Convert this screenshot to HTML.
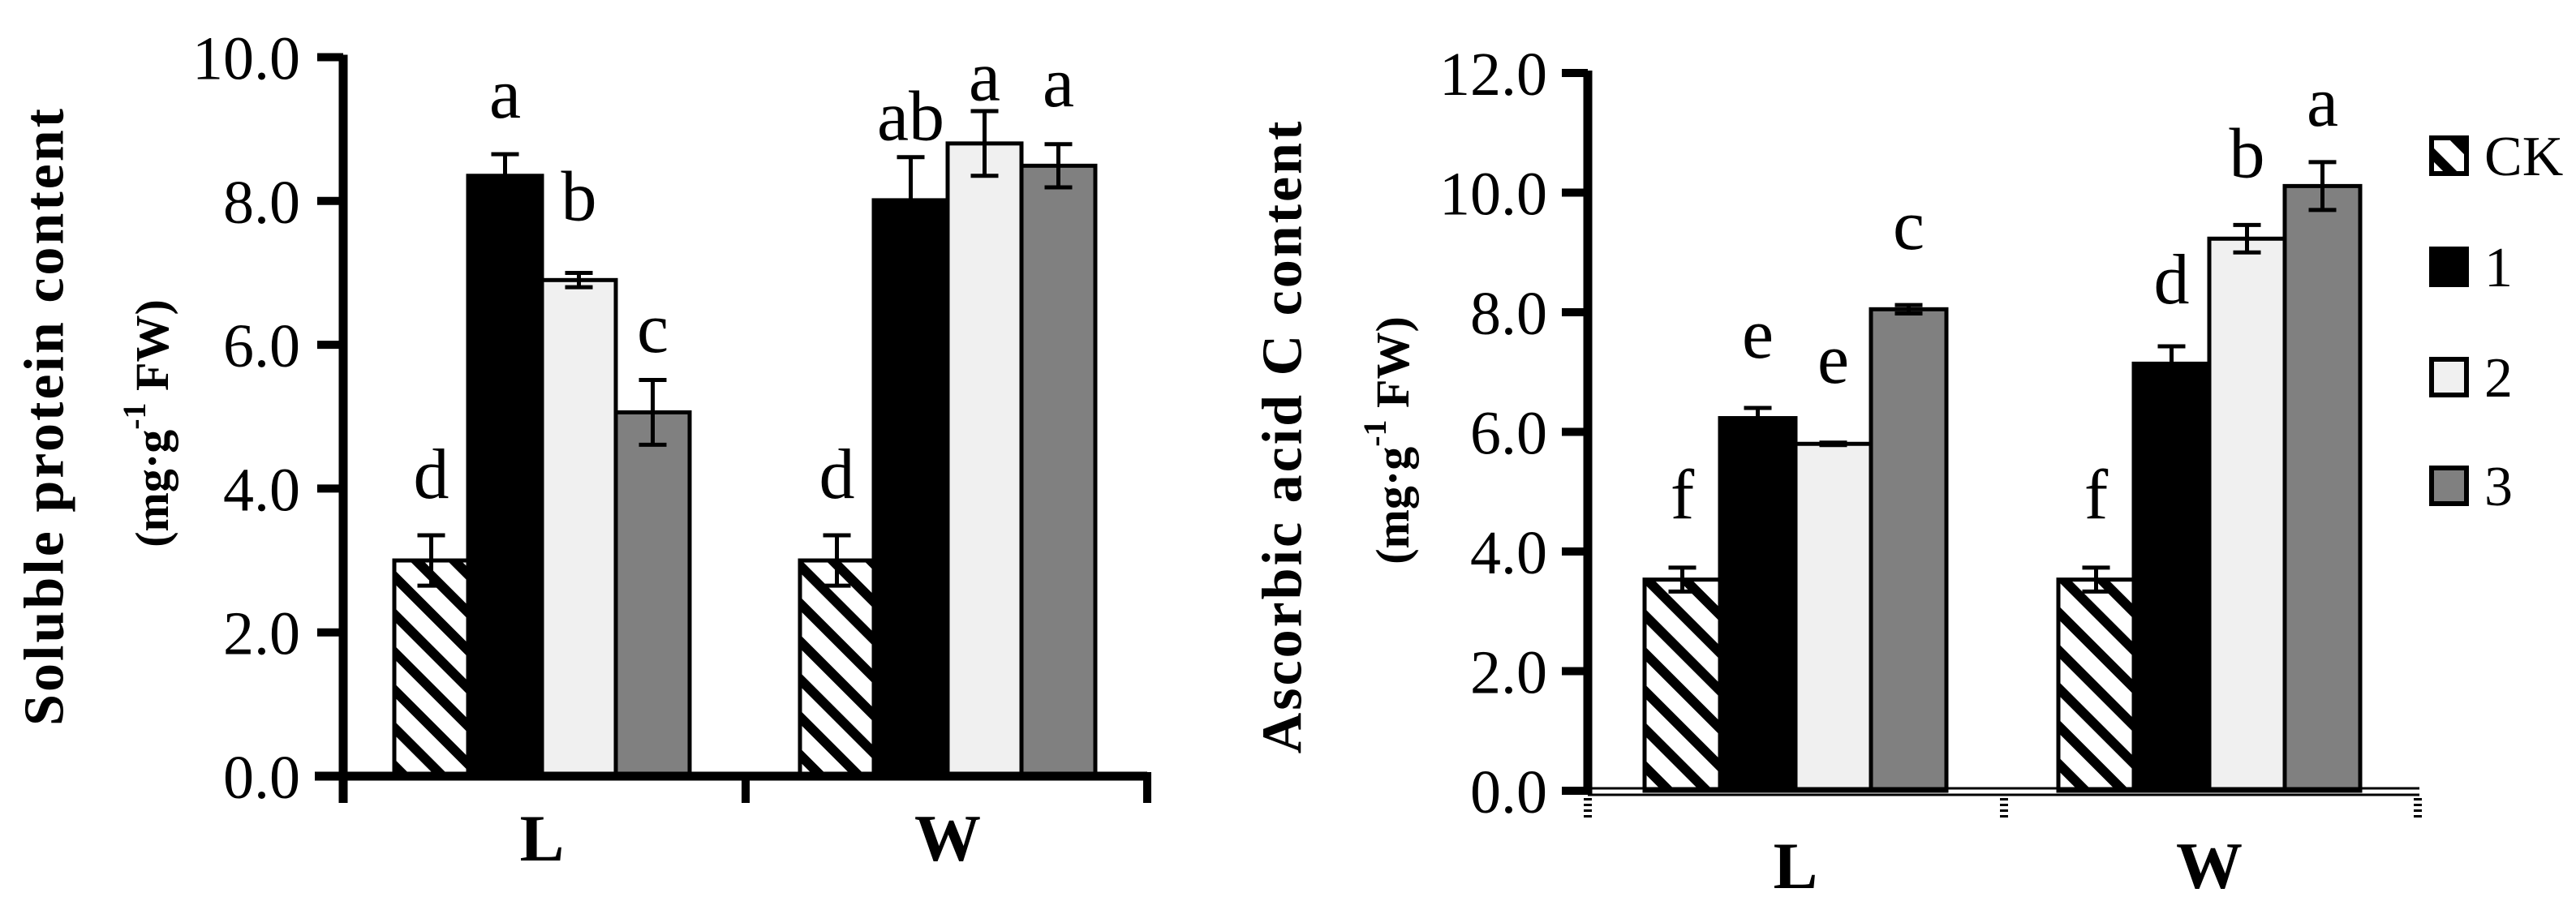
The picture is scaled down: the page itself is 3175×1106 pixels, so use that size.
<!DOCTYPE html>
<html><head><meta charset="utf-8"><style>
html,body{margin:0;padding:0;background:#fff;}
svg{display:block;font-family:"Liberation Serif",serif;}
</style></head><body>
<svg id="chart" width="3175" height="1106" viewBox="0 0 3175 1106" xmlns="http://www.w3.org/2000/svg">
<defs>
<pattern id="hatch" patternUnits="userSpaceOnUse" width="33" height="33" patternTransform="rotate(-45)">
<rect width="33" height="33" fill="#fff"/><rect x="0" y="0" width="12" height="33" fill="#000"/>
</pattern>
</defs>
<g id="left"></g>
<g id="right"></g>
<g id="legend"></g>
</svg>
<script>
const groups = ["L", "W"];
const seriesNames = ["CK", "1", "2", "3"];
const proteinL = [3.0, 8.35, 6.9, 5.06];
const proteinW = [3.0, 8.01, 8.8, 8.49];
const proteinErrL = [0.35, 0.3, 0.1, 0.45];
const proteinErrW = [0.35, 0.6, 0.45, 0.3];
const proteinLettersL = ["d", "a", "b", "c"];
const proteinLettersW = ["d", "ab", "a", "a"];
const proteinLetterPosL = [3.87, 9.16, 7.73, 5.9];
const proteinLetterPosW = [3.87, 8.85, 9.4, 9.32];
const proteinTicks = ["0.0", "2.0", "4.0", "6.0", "8.0", "10.0"];
const ascL = [3.53, 6.23, 5.8, 8.05];
const ascW = [3.53, 7.14, 9.23, 10.11];
const ascErrL = [0.2, 0.17, 0.02, 0.07];
const ascErrW = [0.2, 0.29, 0.23, 0.4];
const ascLettersL = ["f", "e", "e", "c"];
const ascLettersW = ["f", "d", "b", "a"];
const ascLetterPosL = [4.55, 7.24, 6.82, 9.06];
const ascLetterPosW = [4.55, 8.15, 10.26, 11.12];
const ascTicks = ["0.0", "2.0", "4.0", "6.0", "8.0", "10.0", "12.0"];

const NS = "http://www.w3.org/2000/svg";
const fills = ["url(#hatch)", "#000", "#f0f0f0", "#808080"];
function mk(parent, tag, attrs, text) {
  const e = document.createElementNS(NS, tag);
  for (const k in attrs) e.setAttribute(k, attrs[k]);
  if (text !== undefined) e.textContent = text;
  parent.appendChild(e);
  return e;
}
function drawChart(g, cfg) {
  const y = v => cfg.y0 - v * cfg.k;
  const vals = [cfg.vL, cfg.vW], errs = [cfg.eL, cfg.eW], lets = [cfg.lL, cfg.lW], lpos = [cfg.pL, cfg.pW];
  for (let gi = 0; gi < 2; gi++) {
    for (let s = 0; s < 4; s++) {
      const x = cfg.gx[gi] + s * cfg.bw;
      const v = vals[gi][s];
      const r = mk(g, "rect", {x: x, y: y(v), width: cfg.bw, height: cfg.y0 - y(v), fill: fills[s], stroke: "#000", "stroke-width": 5});
      
      
      const cx = x + cfg.bw / 2, e = errs[gi][s];
      const eb = mk(g, "path", {d: `M${cx},${y(v+e)}V${y(v-e)}M${cx-17},${y(v+e)}H${cx+17}M${cx-17},${y(v-e)}H${cx+17}`, stroke: "#000", "stroke-width": 5, fill: "none"});
      
      
      const t = mk(g, "text", {x: cx, y: y(lpos[gi][s]), "font-size": 88, "text-anchor": "middle"}, lets[gi][s]);
      
      
    }
    const xl = mk(g, "text", {x: cfg.gx[gi] + 2 * cfg.bw, y: cfg.xlabY, "font-size": 82, "font-weight": "bold", "text-anchor": "middle"}, groups[gi]);
    
    
  }
  const ax = mk(g, "line", {x1: cfg.ax, x2: cfg.ax, y1: y(cfg.ticks.length*2-2) - 3, y2: cfg.axBottom, stroke: "#000", "stroke-width": 11});
  
  
  cfg.ticks.forEach((tl, i) => {
    const ty = y(i * 2);
    mk(g, "line", {x1: cfg.ax - 32, x2: cfg.ax, y1: ty, y2: ty, stroke: "#000", "stroke-width": 10});
    const t = mk(g, "text", {x: cfg.labR, y: ty + 27, "font-size": 76, "text-anchor": "end"}, tl);
    
    
  });
  const t1 = mk(g, "text", {x: 0, y: 0, "font-size": 70, "font-weight": "bold", "letter-spacing": 3, "text-anchor": "middle", "dominant-baseline": "central", transform: `translate(${cfg.t1x},${cfg.t1y}) rotate(-90)`}, cfg.title);
  
  
  const t2 = mk(g, "text", {x: 0, y: 0, "font-size": 58, "font-weight": "bold", "text-anchor": "middle", "dominant-baseline": "central", transform: `translate(${cfg.t2x},${cfg.t2y}) rotate(-90)`});
  
  
  mk(t2, "tspan", {}, "(mg·g");
  mk(t2, "tspan", {dy: -22, "font-size": 40}, "-1");
  mk(t2, "tspan", {dy: 22}, " FW)");
}
const L = document.getElementById("left");
drawChart(L, {y0: 957, k: 88.65, vL: proteinL, vW: proteinW, eL: proteinErrL, eW: proteinErrW, lL: proteinLettersL, lW: proteinLettersW, pL: proteinLetterPosL, pW: proteinLetterPosW, ticks: proteinTicks, gx: [486, 986], bw: 91, ax: 423, axBottom: 990, labR: 370, xlabY: 1061, title: "Soluble protein content", t1x: 55, t1y: 513, t2x: 187, t2y: 522});
mk(L, "line", {x1: 388, x2: 1414, y1: 957, y2: 957, stroke: "#000", "stroke-width": 11});
[423, 919, 1414].forEach(x => mk(L, "line", {x1: x, x2: x, y1: 952, y2: 990, stroke: "#000", "stroke-width": 10}));

const R = document.getElementById("right");
drawChart(R, {y0: 975, k: 73.75, vL: ascL, vW: ascW, eL: ascErrL, eW: ascErrW, lL: ascLettersL, lW: ascLettersW, pL: ascLetterPosL, pW: ascLetterPosW, ticks: ascTicks, gx: [2027, 2537], bw: 93, ax: 1957, axBottom: 980, labR: 1907, xlabY: 1095, title: "Ascorbic acid C content", t1x: 1581, t1y: 538, t2x: 1716, t2y: 543});
mk(R, "line", {x1: 1957, x2: 2982, y1: 972, y2: 972, stroke: "#000", "stroke-width": 3});
mk(R, "line", {x1: 1957, x2: 2982, y1: 980, y2: 980, stroke: "#000", "stroke-width": 3});
[1957, 2470, 2980].forEach(x => mk(R, "line", {x1: x, x2: x, y1: 984, y2: 1010, stroke: "#000", "stroke-width": 10, "stroke-dasharray": "3,4"}));

const LG = document.getElementById("legend");
const legY = [192, 329, 465, 599];
seriesNames.forEach((n, i) => {
  const r = mk(LG, "rect", {x: 2997, y: legY[i] - 22, width: 43, height: 44, fill: fills[i], stroke: "#000", "stroke-width": 6});
  
  
  const t = mk(LG, "text", {x: 3062, y: legY[i] + 24, "font-size": 70}, n);
  
  
});
</script>
</body></html>
